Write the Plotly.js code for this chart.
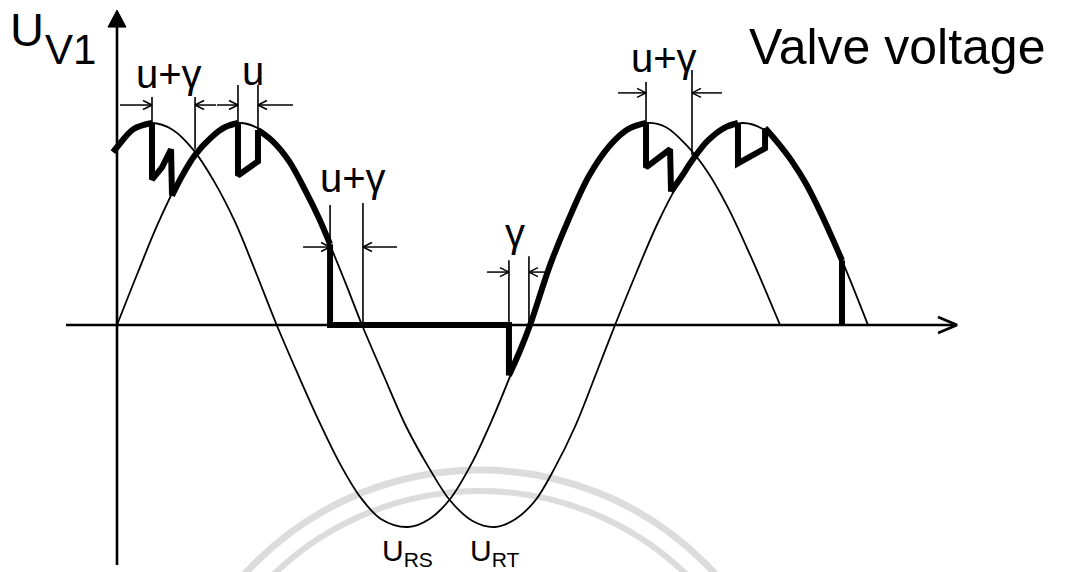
<!DOCTYPE html>
<html>
<head>
<meta charset="utf-8">
<script src="https://cdn.plot.ly/plotly-3.0.1.min.js"></script>
<style>
  html, body { margin: 0; padding: 0; background: #ffffff; }
  #chart { width: 1066px; height: 572px; }
</style>
</head>
<body>
<div id="chart"></div>
<script>
// Line voltage U_RT: electrical angle (deg) and per-unit value
const rtAngle = [0, 15, 30, 45, 60, 75, 88.6, 105, 120, 135, 150, 165, 176.4, 192, 208, 224, 240, 256, 272,
  287, 301, 315, 330, 345, 358.6, 374, 389, 404, 419, 434, 450, 465, 480, 495, 510, 525, 540.7];
const rtValue = [0, 0.26, 0.51, 0.72, 0.87, 0.97, 1.0, 0.96, 0.85, 0.67, 0.45, 0.20, 0, -0.25, -0.50, -0.70, -0.87, -0.97, -1.0,
  -0.96, -0.87, -0.71, -0.50, -0.24, 0, 0.26, 0.50, 0.70, 0.86, 0.96, 1.0, 0.97, 0.87, 0.71, 0.51, 0.27, 0];

// Line voltage U_RS (leads U_RT)
const rsAngle = [-3, 10, 25.2, 40, 55, 70, 85, 100, 115, 130, 145, 160, 175, 190, 209.5, 225, 240, 255, 270, 285,
  297.4, 312, 325, 340, 355, 368, 381.6, 395, 410, 425, 440, 455, 467, 477.4];
const rsValue = [0.87, 0.965, 1.0, 0.967, 0.867, 0.71, 0.51, 0.26, 0, -0.24, -0.47, -0.68, -0.85, -0.96, -1.0, -0.96, -0.86, -0.69, -0.47, -0.22,
  0, 0.30, 0.52, 0.74, 0.89, 0.97, 1.0, 0.98, 0.89, 0.76, 0.58, 0.36, 0.17, 0];

// Valve voltage U_V1 with commutation notches
const uv1Angle = [-2.9, 0, 12, 25.2, 25.2, 32.4, 38.9, 39.6, 47, 56, 68, 78, 87.1, 87.1, 101.5, 101.5, 112, 124, 136, 146, 153.4,
  153.4, 282.2, 282.2, 290, 297.4, 312, 325, 340, 355, 368, 380.9, 380.9, 398.2, 398.9, 406, 414.7, 425, 437, 447.1,
  447.1, 466.6, 466.6, 476, 486, 496, 506, 515, 522, 522];
const uv1Value = [0.856, 0.88, 0.97, 1.0, 0.72, 0.78, 0.87, 0.64, 0.74, 0.84, 0.93, 0.98, 1.0, 0.74, 0.81, 0.965, 0.91, 0.81, 0.66, 0.52, 0.40,
  0, 0, -0.25, -0.13, 0, 0.30, 0.52, 0.74, 0.89, 0.97, 1.0, 0.78, 0.87, 0.66, 0.73, 0.82, 0.91, 0.975, 1.0,
  0.80, 0.875, 0.975, 0.90, 0.81, 0.70, 0.565, 0.43, 0.32, 0];
// 1 where the stretch to the next point follows a supply voltage, 0 for a straight stroke
const uv1Smooth = [1, 1, 1, 0, 0, 0, 0, 1, 1, 1, 1, 1, 0, 0, 0, 1, 1, 1, 1, 1, 0, 0, 0, 1, 1, 1, 1, 1, 1, 1, 1, 0, 0, 0, 1, 1, 1, 1, 1, 0,
  0, 0, 1, 1, 1, 1, 1, 1, 0, 0];

// Overlap / extinction intervals (deg)
const markerText = ['u+γ', 'u', 'u+γ', 'γ', 'u+γ'];
const markerFrom = [25.2, 87.1, 153.4, 282.2, 380.9];
const markerTo = [56.2, 101.5, 177.1, 296.6, 414.0];

// Placement of the dimension lines and their captions
const guideLayout = [
  { level: 1.089, fromTop: 1.129, fromFoot: 1.0, toTop: 1.129, toFoot: 0.87, inLen: 32, outLen: 21, tx: 37.4, ty: 1.242 },
  { level: 1.089, fromTop: 1.188, fromFoot: 1.0, toTop: 1.188, toFoot: 0.965, inLen: 21, outLen: 35, tx: 97.6, ty: 1.257 },
  { level: 0.386, fromTop: 0.594, fromFoot: 0, toTop: 0.604, toFoot: 0, inLen: 27, outLen: 34, tx: 169.6, ty: 0.727 },
  { level: 0.262, fromTop: 0.32, fromFoot: 0, toTop: 0.34, toFoot: 0, inLen: 22, outLen: 18, tx: 286.6, ty: 0.455 },
  { level: 1.149, fromTop: 1.203, fromFoot: 1.0, toTop: 1.262, toFoot: 0.84, inLen: 28, outLen: 30, tx: 393.5, ty: 1.321 }
];

const INK = '#000000';
const FONT = 'Liberation Sans, Arial, sans-serif';
const W = 1066, H = 572;
const X_RANGE = [-84.24, 683.28];
const Y_RANGE = [-1.2228, 1.6089];
// pixel sizes expressed in axis units
const dxPx = (X_RANGE[1] - X_RANGE[0]) / W;
const dyPx = (Y_RANGE[1] - Y_RANGE[0]) / H;

const traces = [];

// Supply voltages (thin)
traces.push({ x: rtAngle, y: rtValue, mode: 'lines', line: { color: INK, width: 1.8, shape: 'spline', smoothing: 1 }, hoverinfo: 'skip' });
traces.push({ x: rsAngle, y: rsValue, mode: 'lines', line: { color: INK, width: 1.8, shape: 'spline', smoothing: 1 }, hoverinfo: 'skip' });

// Valve voltage (thick), split into curved and straight runs
(function () {
  let start = 0;
  const n = uv1Angle.length;
  for (let i = 1; i < n; i++) {
    if (i === n - 1 || uv1Smooth[i] !== uv1Smooth[i - 1]) {
      const smooth = uv1Smooth[i - 1] === 1;
      traces.push({
        x: uv1Angle.slice(start, i + 1),
        y: uv1Value.slice(start, i + 1),
        mode: 'lines',
        line: { color: INK, width: 6, shape: smooth ? 'spline' : 'linear', smoothing: 1 },
        hoverinfo: 'skip'
      });
      start = i;
    }
  }
})();

// Horizontal arrow: tip at (x, y), tail `len` px away on side `side` (-1 left, +1 right)
function hArrow(xs, ys, x, y, len, side, headLen, headHalf) {
  const tail = x + side * len * dxPx;
  const back = x + side * headLen * dxPx;
  xs.push(tail, x, null, back, x, back, null);
  ys.push(y, y, null, y + headHalf * dyPx, y, y - headHalf * dyPx, null);
}

// Dimension guide lines and arrows
(function () {
  const gx = [], gy = [];
  const ax = [], ay = [];
  markerFrom.forEach((a, i) => {
    const g = guideLayout[i];
    gx.push(a, a, null, markerTo[i], markerTo[i], null);
    gy.push(g.fromTop, g.fromFoot, null, g.toTop, g.toFoot, null);
    hArrow(ax, ay, a, g.level, g.inLen, -1, 9, 4.5);
    hArrow(ax, ay, markerTo[i], g.level, g.outLen, 1, 9, 4.5);
  });
  traces.push({ x: gx, y: gy, mode: 'lines', line: { color: INK, width: 1.6 }, hoverinfo: 'skip' });
  traces.push({ x: ax, y: ay, mode: 'lines', line: { color: INK, width: 1.5 }, hoverinfo: 'skip' });
})();

// Axes
(function () {
  // horizontal axis with open arrowhead
  const hx = [], hy = [];
  hArrow(hx, hy, 604.8, 0, 891, -1, 19, 8);
  traces.push({ x: hx, y: hy, mode: 'lines', line: { color: INK, width: 2.6 }, hoverinfo: 'skip' });
  // vertical axis with filled arrowhead
  const tipY = 1.559;
  traces.push({ x: [0, 0], y: [-1.188, tipY - 10 * dyPx], mode: 'lines', line: { color: INK, width: 2.6 }, hoverinfo: 'skip' });
  traces.push({
    x: [-9 * dxPx, 0, 9 * dxPx, -9 * dxPx], y: [tipY - 17 * dyPx, tipY, tipY - 17 * dyPx, tipY - 17 * dyPx],
    mode: 'lines', fill: 'toself', fillcolor: INK, line: { color: INK, width: 1 }, hoverinfo: 'skip'
  });
})();

const annotations = [];

// Interval captions
markerFrom.forEach((a, i) => {
  const g = guideLayout[i];
  annotations.push({ x: g.tx, y: g.ty, xref: 'x', yref: 'y', text: markerText[i], showarrow: false,
    xanchor: 'center', yanchor: 'middle', font: { family: FONT, size: 40, color: INK } });
});

// Names of the supply voltages under their troughs
function troughAngle(ang, val) {
  let k = 0;
  val.forEach((v, i) => { if (v < val[k]) k = i; });
  return ang[k];
}
annotations.push({ x: troughAngle(rsAngle, rsValue), y: -1.125, xref: 'x', yref: 'y', text: 'U<sub>RS</sub>',
  showarrow: false, xanchor: 'center', yanchor: 'middle', font: { family: FONT, size: 30, color: INK } });
annotations.push({ x: troughAngle(rtAngle, rtValue), y: -1.125, xref: 'x', yref: 'y', text: 'U<sub>RT</sub>',
  showarrow: false, xanchor: 'center', yanchor: 'middle', font: { family: FONT, size: 30, color: INK } });

// Axis name and title
annotations.push({ x: 0.0253, y: 0.9476, xref: 'paper', yref: 'paper', text: 'U', showarrow: false,
  xanchor: 'center', yanchor: 'middle', font: { family: FONT, size: 47, color: INK } });
annotations.push({ x: 0.0661, y: 0.9143, xref: 'paper', yref: 'paper', text: 'V1', showarrow: false,
  xanchor: 'center', yanchor: 'middle', font: { family: FONT, size: 42, color: INK } });
annotations.push({ x: 0.7005, y: 0.9187, xref: 'paper', yref: 'paper', text: 'Valve voltage', showarrow: false,
  xanchor: 'left', yanchor: 'middle', font: { family: FONT, size: 50, color: INK } });

// Faint emblem behind the lower part of the drawing
const shapes = [
  { type: 'circle', xref: 'paper', yref: 'paper', x0: 0.15197, x1: 0.74859, y0: -0.93357, y1: 0.17832,
    line: { color: '#dcdcdc', width: 7 }, fillcolor: 'rgba(0,0,0,0)', layer: 'below' },
  { type: 'circle', xref: 'paper', yref: 'paper', x0: 0.17167, x1: 0.72889, y0: -0.89685, y1: 0.14161,
    line: { color: '#dcdcdc', width: 6 }, fillcolor: 'rgba(0,0,0,0)', layer: 'below' }
];

const layout = {
  width: W, height: H,
  margin: { l: 0, r: 0, t: 0, b: 0, pad: 0 },
  paper_bgcolor: '#ffffff', plot_bgcolor: 'rgba(0,0,0,0)',
  showlegend: false,
  xaxis: { range: X_RANGE, visible: false, fixedrange: true },
  yaxis: { range: Y_RANGE, visible: false, fixedrange: true },
  annotations: annotations,
  shapes: shapes
};

Plotly.newPlot('chart', traces, layout, { staticPlot: true, displayModeBar: false });
</script>
</body>
</html>
